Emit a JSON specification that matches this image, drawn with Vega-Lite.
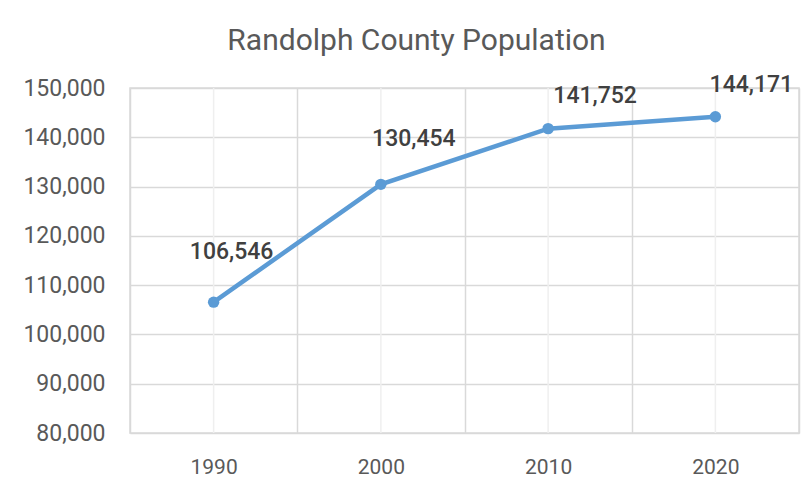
{
  "$schema": "https://vega.github.io/schema/vega-lite/v6.json",
  "autosize": "none",
  "width": 669,
  "height": 345,
  "padding": {"left": 130, "top": 88, "right": 12, "bottom": 61},
  "background": "white",
  "config": {
    "font": "Roboto",
    "view": {"stroke": "#d9d9d9", "strokeWidth": 1.5}
  },
  "title": {
    "text": "Randolph County Population",
    "fontSize": 30,
    "fontWeight": "normal",
    "color": "#595959",
    "dx": -48,
    "offset": 18
  },
  "data": {
    "values": [
      {"year": "1990", "population": 106546},
      {"year": "2000", "population": 130454},
      {"year": "2010", "population": 141752},
      {"year": "2020", "population": 144171}
    ]
  },
  "encoding": {
    "x": {
      "field": "year",
      "type": "ordinal",
      "scale": {"type": "band", "paddingInner": 0, "paddingOuter": 0},
      "axis": {
        "title": null,
        "labelAngle": 0,
        "labelFontSize": 21,
        "labelColor": "#595959",
        "labelPadding": 23,
        "domain": false,
        "ticks": false,
        "tickBand": "extent",
        "grid": true,
        "gridColor": "#d9d9d9",
        "gridWidth": 1.5
      }
    },
    "y": {
      "field": "population",
      "type": "quantitative",
      "scale": {"domain": [80000, 150000], "nice": false, "zero": false},
      "axis": {
        "title": null,
        "values": [80000, 90000, 100000, 110000, 120000, 130000, 140000, 150000],
        "format": ",.0f",
        "labelFontSize": 23,
        "labelColor": "#595959",
        "labelPadding": 25,
        "domain": false,
        "ticks": false,
        "grid": true,
        "gridColor": "#d9d9d9",
        "gridWidth": 1.5
      }
    }
  },
  "layer": [
    {
      "mark": {"type": "rule", "color": "#efefef", "strokeWidth": 1.5},
      "encoding": {"x": {"field": "year", "type": "ordinal", "bandPosition": 0.5}, "y": null}
    },
    {
      "mark": {"type": "line", "color": "#5B9BD5", "strokeWidth": 4.5, "point": {"filled": true, "size": 130, "color": "#5B9BD5"}},
      "encoding": {"x": {"field": "year", "type": "ordinal", "bandPosition": 0.5}}
    },
    {
      "transform": [{"filter": "datum.year == '1990'"}],
      "mark": {"type": "text", "fontSize": 23, "fontWeight": 500, "color": "#404040", "dx": 18, "dy": -50},
      "encoding": {"x": {"field": "year", "type": "ordinal", "bandPosition": 0.5}, "text": {"field": "population", "format": ",.0f"}}
    },
    {
      "transform": [{"filter": "datum.year == '2000'"}],
      "mark": {"type": "text", "fontSize": 23, "fontWeight": 500, "color": "#404040", "dx": 33, "dy": -45},
      "encoding": {"x": {"field": "year", "type": "ordinal", "bandPosition": 0.5}, "text": {"field": "population", "format": ",.0f"}}
    },
    {
      "transform": [{"filter": "datum.year == '2010'"}],
      "mark": {"type": "text", "fontSize": 23, "fontWeight": 500, "color": "#404040", "dx": 47, "dy": -33},
      "encoding": {"x": {"field": "year", "type": "ordinal", "bandPosition": 0.5}, "text": {"field": "population", "format": ",.0f"}}
    },
    {
      "transform": [{"filter": "datum.year == '2020'"}],
      "mark": {"type": "text", "fontSize": 23, "fontWeight": 500, "color": "#404040", "dx": 36, "dy": -32},
      "encoding": {"x": {"field": "year", "type": "ordinal", "bandPosition": 0.5}, "text": {"field": "population", "format": ",.0f"}}
    }
  ]
}
